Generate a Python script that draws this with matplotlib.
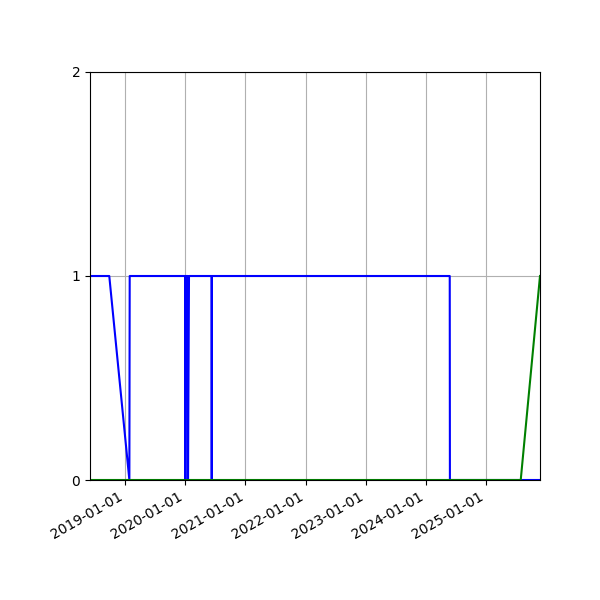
import numpy as np
import pandas as pd
import matplotlib
matplotlib.use('Agg')
import matplotlib.pyplot as plt
import matplotlib.dates as mdates

# blue series: status flag
blue_dates = ['2018-06-02', '2018-09-27', '2019-01-27', '2019-01-29',
              '2020-01-01', '2020-01-02', '2020-01-04', '2020-01-17',
              '2020-01-18', '2020-01-24', '2020-06-09', '2020-06-10',
              '2020-06-11', '2024-05-25', '2024-05-26', '2025-11-24']
blue_values = [1, 1, 0, 1,
               1, 0, 1, 1,
               0, 1, 1, 0,
               1, 1, 0, 0]

# green series
green_dates = ['2018-06-02', '2025-07-30', '2025-11-24']
green_values = [0, 0, 1]

y_ticks = [0, 1, 2]

bx = pd.to_datetime(blue_dates)
gx = pd.to_datetime(green_dates)

fig = plt.figure(figsize=(6, 6), dpi=100)
ax = fig.add_axes([0.15, 0.2, 0.75, 0.68])

ax.plot(bx, blue_values, color='blue', linewidth=1.5)
ax.plot(gx, green_values, color='green', linewidth=1.5)

ax.set_xlim(bx[0], bx[-1])
ax.set_ylim(0, 2)
ax.set_yticks(y_ticks)
ax.grid(True)

ax.xaxis.set_major_locator(mdates.YearLocator())
ax.xaxis.set_major_formatter(mdates.DateFormatter('%Y-%m-%d'))
for lbl in ax.get_xticklabels():
    lbl.set_rotation(30)
    lbl.set_ha('right')

fig.savefig('out.png', dpi=100)
